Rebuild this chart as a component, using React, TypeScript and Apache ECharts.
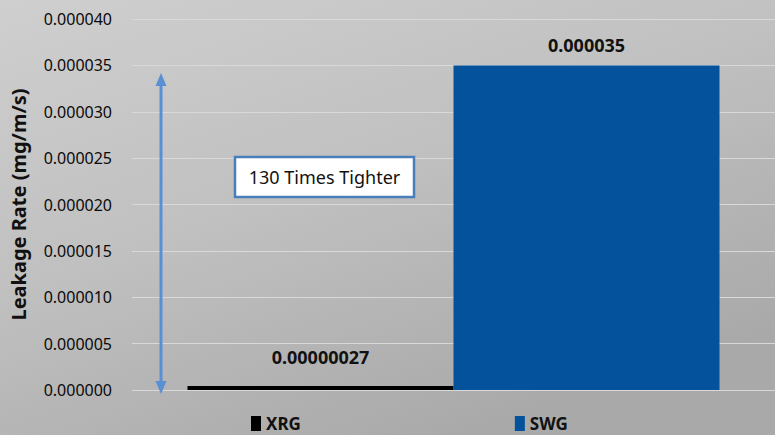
import React, { useEffect, useRef } from "react";
import * as echarts from "echarts";

const categories = ["Leakage Rate"];
const seriesNames = ["XRG", "SWG"];
const xrgValues = [0.00000027];
const swgValues = [0.000035];
const yMin = 0;
const yMax = 0.00004;
const yInterval = 0.000005;
const annotationText = "130 Times Tighter";

export default function App() {
  const ref = useRef<HTMLDivElement>(null);
  useEffect(() => {
    if (!ref.current) return;
    const chart = echarts.init(ref.current, undefined, { renderer: "svg" });
    const font = "Noto Sans";
    const arrowColor = "#5b8fd3";
    chart.setOption({
      animation: false,
      backgroundColor: new echarts.graphic.LinearGradient(0, 0, 0.6, 1, [
        { offset: 0, color: "#cfcfcf" },
        { offset: 0.5, color: "#c0c0c0" },
        { offset: 1, color: "#a9a9a9" },
      ]),
      textStyle: { fontFamily: font },
      grid: { left: 126, right: 0, top: 19, bottom: 45, containLabel: false },
      legend: {
        data: seriesNames,
        left: 246,
        top: 410,
        itemGap: 214,
        icon: "rect",
        itemWidth: 10,
        itemHeight: 15,
        textStyle: { fontFamily: font, fontSize: 17, fontWeight: "bold", color: "#111" },
        selectedMode: false,
      },
      xAxis: {
        type: "category",
        data: categories,
        axisLabel: { show: false },
        axisLine: { show: false },
        axisTick: { show: false },
      },
      yAxis: {
        type: "value",
        min: yMin,
        max: yMax,
        interval: yInterval,
        name: "Leakage Rate (mg/m/s)",
        nameLocation: "middle",
        nameGap: 104,
        nameTextStyle: { fontFamily: font, fontSize: 20, fontWeight: "bold", color: "#111" },
        axisLabel: {
          margin: 20,
          fontFamily: font,
          fontSize: 16,
          color: "#0a0a0a",
          formatter: (v: number) => v.toFixed(6),
        },
        axisLine: { show: false },
        axisTick: { show: false },
        splitLine: { lineStyle: { color: "#d9d9d9", width: 1 } },
      },
      series: [
        {
          name: seriesNames[0],
          type: "bar",
          data: xrgValues,
          barWidth: 266,
          barGap: "0%",
          barMinHeight: 4,
          itemStyle: { color: "#000000" },
          label: {
            show: true,
            position: "top",
            distance: 20,
            fontFamily: font,
            fontSize: 18,
            fontWeight: "bold",
            color: "#111",
            formatter: (p: any) => Number(p.value).toFixed(8),
          },
        },
        {
          name: seriesNames[1],
          type: "bar",
          data: swgValues,
          barWidth: 266,
          barGap: "0%",
          itemStyle: { color: "#03529b" },
          label: {
            show: true,
            position: "top",
            distance: 11,
            fontFamily: font,
            fontSize: 18,
            fontWeight: "bold",
            color: "#111",
            formatter: (p: any) => Number(p.value).toFixed(6),
          },
        },
      ],
      graphic: [
        {
          type: "line",
          shape: { x1: 161, y1: 84, x2: 161, y2: 383 },
          style: { stroke: arrowColor, lineWidth: 3 },
          z: 10,
        },
        {
          type: "polygon",
          shape: { points: [[161, 73], [155.5, 86], [166.5, 86]] },
          style: { fill: arrowColor },
          z: 10,
        },
        {
          type: "polygon",
          shape: { points: [[161, 394], [155.5, 381], [166.5, 381]] },
          style: { fill: arrowColor },
          z: 10,
        },
        {
          type: "rect",
          shape: { x: 235, y: 157, width: 179, height: 40 },
          style: { fill: "#ffffff", stroke: "#4a7ebb", lineWidth: 2.5 },
          z: 10,
        },
        {
          type: "text",
          x: 324.5,
          y: 177,
          style: {
            text: annotationText,
            fontFamily: font,
            fontSize: 18,
            fill: "#111",
            textAlign: "center",
            textVerticalAlign: "middle",
          },
          z: 11,
        },
      ],
    });
    return () => chart.dispose();
  }, []);
  return (
    <div
      ref={ref}
      style={{ position: "fixed", left: 0, top: 0, width: 775, height: 435 }}
    />
  );
}
